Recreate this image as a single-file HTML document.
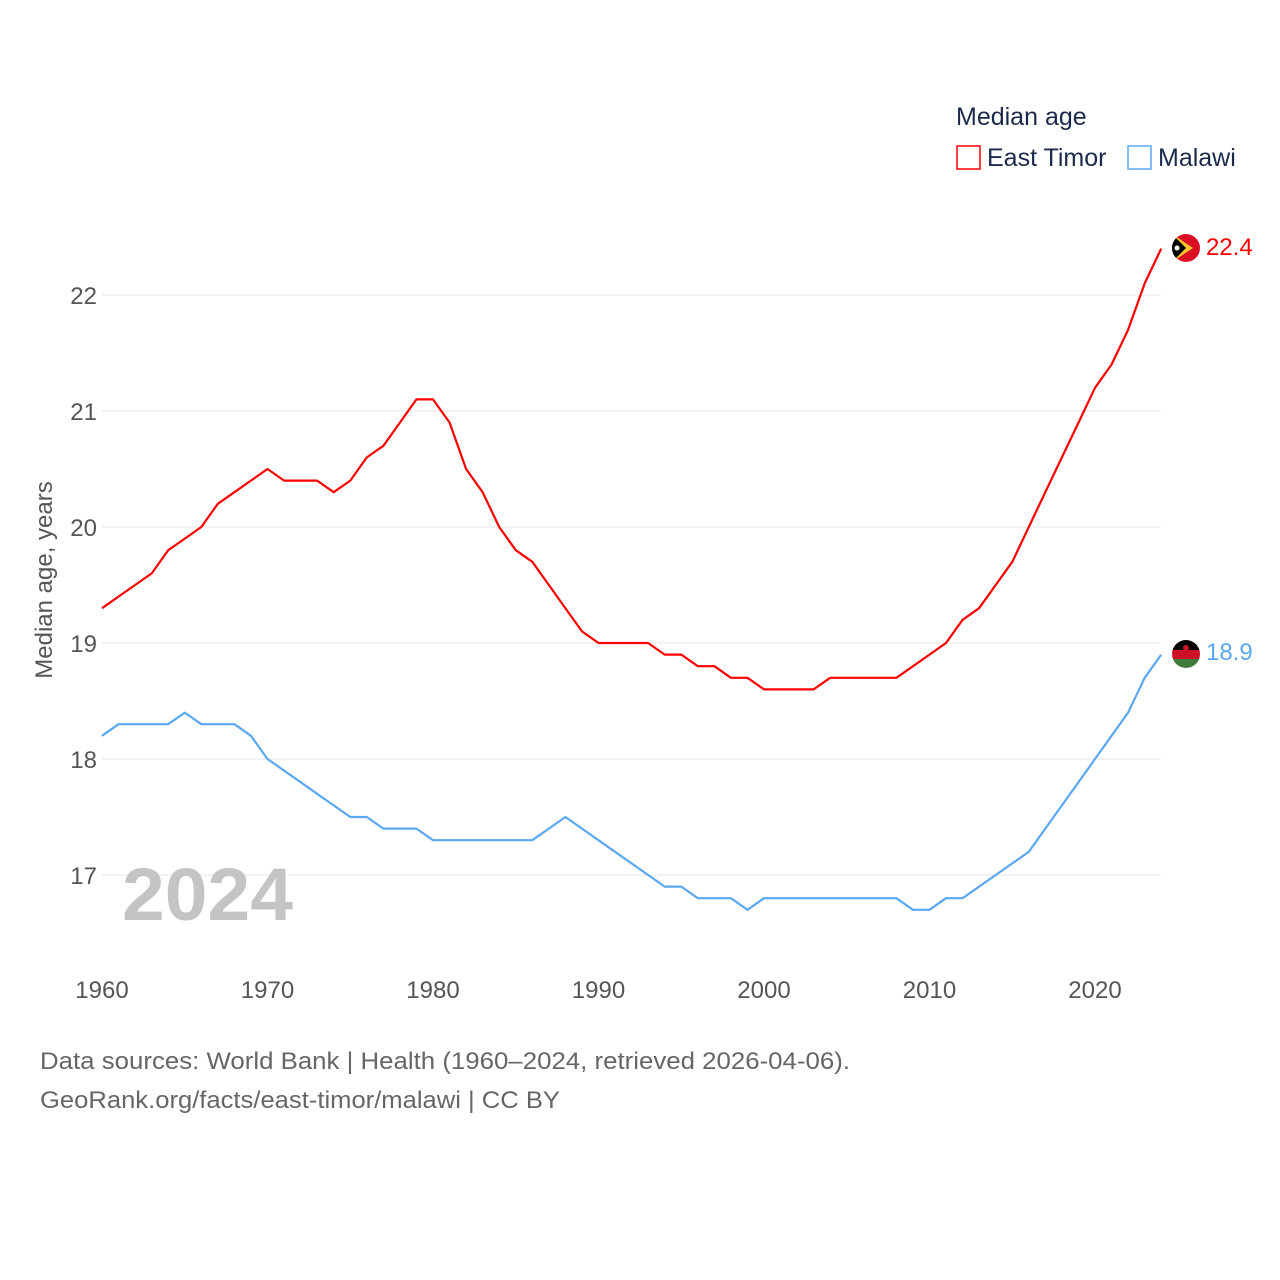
<!DOCTYPE html>
<html><head><meta charset="utf-8"><style>
body{margin:0;background:#fff;}
svg{display:block;font-family:"Liberation Sans",sans-serif;}
</style></head><body>
<svg id="chart" width="1280" height="1280" viewBox="0 0 1280 1280">
<g id="grid"></g>
<g id="yticks"></g>
<g id="xticks"></g>
<text x="52" y="580" transform="rotate(-90 52 580)" text-anchor="middle" font-size="24" fill="#555">Median age, years</text>
<text x="122" y="920" font-size="74" font-weight="bold" fill="#c4c4c4" textLength="171" lengthAdjust="spacingAndGlyphs">2024</text>
<g id="series"></g>
<g>
<text x="956" y="125" font-size="25" fill="#1a2a4a">Median age</text>
<g><rect x="957" y="146" width="23" height="23" fill="none" stroke="#ff0000" stroke-width="1.5"/><text x="987" y="166" font-size="25" fill="#1a2a4a">East Timor</text></g>
<g><rect x="1128" y="146" width="23" height="23" fill="none" stroke="#5ba8f0" stroke-width="1.5"/><text x="1158" y="166" font-size="25" fill="#1a2a4a">Malawi</text></g>
</g>
<g>
<clipPath id="c1"><circle cx="1186" cy="248" r="14"/></clipPath>
<g clip-path="url(#c1)"><rect x="1172" y="234" width="28" height="28" fill="#dc0e23"/><polygon points="1172,234 1193,248 1172,262" fill="#ffc726"/><polygon points="1172,234 1186,248 1172,262" fill="#000"/><circle cx="1177" cy="248" r="2.5" fill="#fff"/></g></g>
<g>
<clipPath id="c2"><circle cx="1186" cy="654" r="14"/></clipPath>
<g clip-path="url(#c2)"><rect x="1172" y="640" width="28" height="10" fill="#000"/><rect x="1172" y="650" width="28" height="9" fill="#ce1126"/><rect x="1172" y="659" width="28" height="10" fill="#3e7a3a"/><circle cx="1186" cy="648" r="3" fill="#ce1126"/></g></g>
<text x="1206" y="255" font-size="24" fill="#ff0000">22.4</text>
<text x="1206" y="660" font-size="24" fill="#5ba8f0">18.9</text>
<text x="40" y="1069" font-size="24" fill="#666" textLength="810" lengthAdjust="spacingAndGlyphs">Data sources: World Bank | Health (1960–2024, retrieved 2026-04-06).</text>
<text x="40" y="1108" font-size="24" fill="#666" textLength="520" lengthAdjust="spacingAndGlyphs">GeoRank.org/facts/east-timor/malawi | CC BY</text>
</svg>
<script>
const years=[];for(let y=1960;y<=2024;y++)years.push(y);
const eastTimor=[19.3,19.4,19.5,19.6,19.8,19.9,20.0,20.2,20.3,20.4,20.5,20.4,20.4,20.4,20.3,20.4,20.6,20.7,20.9,21.1,21.1,20.9,20.5,20.3,20.0,19.8,19.7,19.5,19.3,19.1,19.0,19.0,19.0,19.0,18.9,18.9,18.8,18.8,18.7,18.7,18.6,18.6,18.6,18.6,18.7,18.7,18.7,18.7,18.7,18.8,18.9,19.0,19.2,19.3,19.5,19.7,20.0,20.3,20.6,20.9,21.2,21.4,21.7,22.1,22.4];
const malawi=[18.2,18.3,18.3,18.3,18.3,18.4,18.3,18.3,18.3,18.2,18.0,17.9,17.8,17.7,17.6,17.5,17.5,17.4,17.4,17.4,17.3,17.3,17.3,17.3,17.3,17.3,17.3,17.4,17.5,17.4,17.3,17.2,17.1,17.0,16.9,16.9,16.8,16.8,16.8,16.7,16.8,16.8,16.8,16.8,16.8,16.8,16.8,16.8,16.8,16.7,16.7,16.8,16.8,16.9,17.0,17.1,17.2,17.4,17.6,17.8,18.0,18.2,18.4,18.7,18.9];
const yTicks=[17,18,19,20,21,22];
const xTicks=[1960,1970,1980,1990,2000,2010,2020];
const X=y=>102+(y-1960)*993/60;
const Y=v=>295+(22-v)*116;
const NS='http://www.w3.org/2000/svg';
function mk(tag,attrs,parent){const e=document.createElementNS(NS,tag);for(const k in attrs)e.setAttribute(k,attrs[k]);parent.appendChild(e);return e;}
const grid=document.getElementById('grid'),yt=document.getElementById('yticks'),xt=document.getElementById('xticks'),ser=document.getElementById('series');
yTicks.forEach(v=>{
 const l=mk('line',{x1:102,x2:1161,y1:Y(v),y2:Y(v),stroke:'#e6e6e6','stroke-width':1},grid);
 
 
 const t=mk('text',{x:97,y:Y(v)+9,'text-anchor':'end','font-size':24,fill:'#555'},yt);
 t.textContent=v;
 
 
});
xTicks.forEach(v=>{
 const t=mk('text',{x:X(v),y:998,'text-anchor':'middle','font-size':24,fill:'#555'},xt);
 t.textContent=v;
 
 
});
function line(data,color,name){
 const d=data.map((v,i)=>(i?'L':'M')+X(years[i]).toFixed(1)+','+Y(v).toFixed(1)).join('');
 const p=mk('path',{d:d,fill:'none',stroke:color,'stroke-width':2.2,'stroke-linejoin':'round'},ser);
 
 
}
line(eastTimor,'#ff0000','east-timor-line');
line(malawi,'#5ba8f0','malawi-line');
</script>
</body></html>
